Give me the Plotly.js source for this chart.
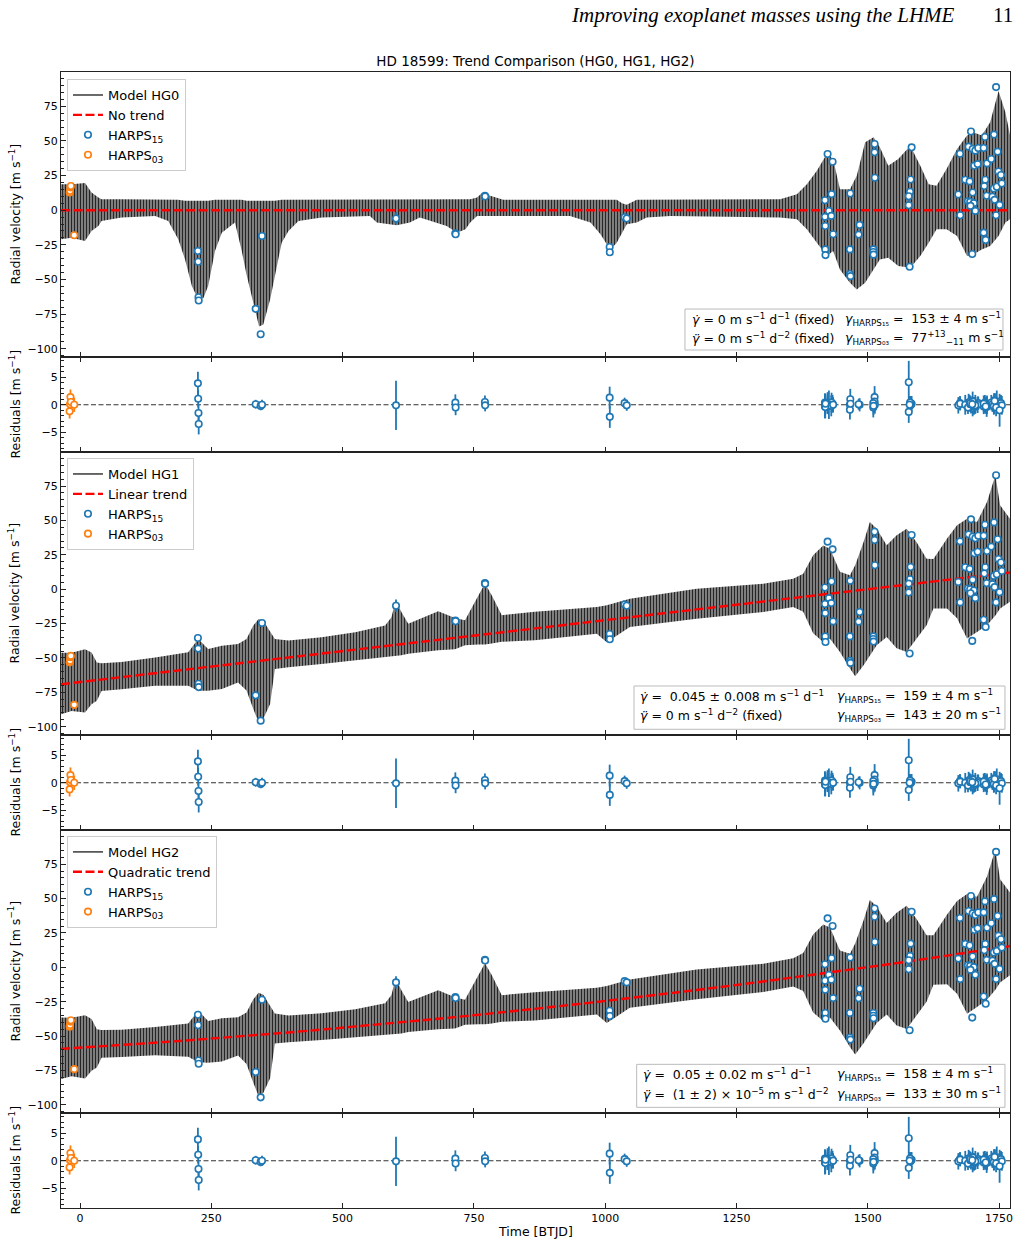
<!DOCTYPE html>
<html>
<head>
<meta charset="utf-8">
<script src="https://cdn.plot.ly/plotly-3.0.1.min.js"></script>
<style>
  html, body { margin: 0; padding: 0; background: #ffffff; }
  #chart { width: 1021px; height: 1246px; }
</style>
</head>
<body>
<div id="chart"></div>
<script>
// ---------------- data ----------------
// HARPS (post-2015) radial velocities, absolute [m/s], their errors and model residuals
const T_H15 = [224.5, 225.0, 225.6, 226.0, 334.5, 344.0, 346.5, 601.7, 714.7, 715.2, 771.0, 771.4,
  1008.5, 1008.8, 1037.0, 1041.0,
  1423.5, 1433.0, 1431.0, 1418.5, 1426.0, 1418.5, 1430.5, 1419.0, 1419.0, 1419.5, 1434.0,
  1466.7, 1484.5, 1482.6, 1466.0, 1466.0, 1467.0,
  1513.0, 1513.0, 1513.5, 1510.5, 1510.5, 1511.0,
  1583.5, 1581.6, 1580.5, 1578.0, 1578.0, 1579.7,
  1675.6, 1672.4, 1676.0, 1692.0, 1696.5, 1685.6, 1694.0, 1699.7, 1704.7, 1710.4,
  1720.7, 1723.0, 1702.8, 1709.2, 1699.7, 1690.8, 1695.0, 1702.0, 1695.6, 1704.7,
  1727.0, 1735.2, 1740.4, 1744.3, 1747.3, 1723.7, 1721.8, 1726.4, 1737.3, 1740.0,
  1745.6, 1748.8, 1753.6, 1755.3, 1741.6, 1744.3, 1751.0, 1720.7, 1724.5, 1698.9];
const RV_H15 = [123.5, 115.8, 90.2, 87.8, 81.8, 63.4, 134.4, 147.0, 136.3, 135.7, 163.4, 162.9,
  126.4, 122.6, 147.9, 147.0,
  193.6, 188.0, 164.6, 160.2, 152.5, 148.2, 148.9, 141.6, 124.7, 120.6, 135.6,
  165.1, 142.4, 135.4, 124.7, 106.9, 105.4,
  200.8, 194.8, 176.4, 124.7, 122.8, 120.9,
  198.4, 175.2, 166.3, 163.1, 156.6, 112.2,
  193.8, 164.3, 149.4, 198.9, 209.8, 175.0, 173.8, 197.2, 196.0, 197.9,
  197.9, 205.9, 185.1, 186.3, 165.8, 159.5, 159.0, 158.1, 156.1, 152.5,
  186.8, 190.0, 207.6, 241.9, 195.3, 175.0, 170.4, 163.4, 162.7, 168.7,
  169.9, 181.0, 178.4, 172.3, 160.5, 149.4, 156.8, 136.8, 131.5, 121.4];
const ERR_H15 = [2.1, 1.6, 1.6, 1.9, 0.8, 0.8, 0.9, 4.5, 1.5, 1.4, 1.2, 1.1,
  2.0, 2.0, 1.0, 1.0,
  2.0, 1.6, 1.8, 2.2, 2.6, 1.7, 1.9, 1.5, 2.0, 1.8, 1.4,
  1.9, 1.2, 1.0, 1.6, 1.8, 1.5,
  2.0, 1.7, 1.6, 1.8, 1.5, 1.6,
  1.4, 1.3, 1.2, 3.9, 2.0, 1.5,
  1.3, 1.5, 1.2, 1.6, 1.4, 1.8, 1.3, 1.5, 1.7, 1.2,
  1.4, 1.6, 1.3, 1.5, 1.8, 1.2, 1.4, 1.6, 1.3, 1.5,
  1.7, 1.4, 1.9, 1.6, 1.3, 1.5, 1.2, 1.8, 1.4, 1.6,
  2.0, 1.3, 1.5, 1.7, 1.4, 1.6, 3.0, 1.5, 1.3, 1.4];
const RES_H15 = [3.9, 1.1, -1.5, -3.5, 0.1, -0.2, 0.0, -0.1, 0.4, -0.5, 0.5, -0.1,
  1.3, -2.2, 0.3, -0.1,
  0.3, 0.2, 0.4, -0.3, 0.0, 0.4, -0.2, 0.1, -0.4, 0.2, 0.0,
  1.0, 0.0, 0.1, 0.0, -0.9, 0.2,
  1.4, 0.6, 0.0, -0.5, 0.3, -0.2,
  0.2, -0.1, 0.4, 4.1, -1.3, 0.0,
  0.3, -0.1, 0.2, 0.4, -0.2, 0.0, 0.5, -0.6, 0.1, 0.3,
  -0.3, 0.2, -0.4, 0.0, 0.6, -0.5, 0.1, -0.2, 0.3, -0.1,
  0.0, 0.4, 0.2, 0.5, -0.3, -0.1, 0.3, -0.4, 0.1, -0.2,
  0.6, 0.0, 0.3, -0.1, 0.7, -0.5, -1.0, 0.2, -0.3, 0.1];

// HARPS (2003) radial velocities, absolute [m/s]
const T_H03 = [-19.8, -19.0, -18.2, -17.5, -11.0];
const RV_H03 = [89.8, 91.0, 93.5, 94.5, 58.9];
const ERR_H03 = [1.3, 1.2, 1.4, 1.3, 1.3];
const RES_H03 = [-1.2, 0.1, 1.4, 0.5, 0.0];

// Model envelopes (max / min of the planet + activity curve), relative to each model's trend [m/s]
const ENV0_T = [-36, -16, 9.5, 22, 35, 41, 79, 143, 168, 187, 200, 213, 225, 235, 244, 257, 270, 295, 308, 317,
  330, 341, 349, 362, 371, 384, 397, 416, 460, 524, 552, 565, 584, 603, 628, 647, 698, 708, 718, 734,
  743, 756, 765, 772, 781, 806, 933, 972, 991, 1003, 1013, 1022, 1032, 1041, 1060, 1079, 1124, 1333, 1365, 1384,
  1403, 1422, 1434, 1447, 1466, 1479, 1495, 1511, 1523, 1539, 1558, 1581, 1600, 1616, 1631, 1650, 1670, 1689, 1701, 1717,
  1733, 1749, 1762, 1771];
const ENV0_UP = [18.8, 18.8, 19.6, 12.8, 9.2, 8, 8, 8, 8, 7.5, 6.8, 6.8, 6.8, 6.8, 6.8, 7.5, 7.5, 7.5, 7.5, 6.8,
  6.8, 6.8, 6.8, 6.8, 6.8, 7.5, 7.5, 8, 8, 8, 7.5, 7.5, 7.5, 7.5, 7.5, 7.5, 7.5, 7.5, 7.5, 7.5,
  8, 9.2, 12.3, 12.3, 10.4, 7.5, 7.5, 7.5, 7.5, 7.5, 7.5, 7.5, 5, 4, 7.5, 7.5, 7.5, 8, 11.6, 18.8,
  28.5, 40.6, 37, 15.2, 15.2, 24.9, 49, 52.7, 45.4, 32.1, 37, 46.6, 32.1, 18.8, 17.6, 29.7, 44.2, 53.9, 56.3, 53.9,
  63.5, 86, 70.8, 53.9];
const ENV0_LO = [-21, -19.8, -22.2, -15, -11.4, -7.7, -5.3, -4.1, -7.7, -21, -35.5, -54.8, -64.5, -63.3, -54.8, -29.5, -16.2, -8.9, -29.5, -46.4,
  -66.9, -84, -82.6, -64.5, -47.6, -23.4, -15, -7.7, -5.3, -4.1, -4.1, -8.9, -10.1, -10.9, -8.9, -5.3, -11.4, -13.8, -16.2, -13.8,
  -8.9, -4.1, -4.1, -4.1, -4.1, -4.1, -4.1, -8.9, -17.4, -24.6, -27.1, -23.4, -16.2, -10.1, -8.9, -5.3, -4.1, -5.3, -6.5, -13.8,
  -23.4, -33.1, -29.5, -42.8, -52.4, -57.2, -52.4, -42.8, -35.5, -34.3, -40.3, -41.5, -33.1, -23.4, -13.8, -13.8, -18.6, -33.1, -31.9, -28.3,
  -25.8, -18.6, -8.9, -6.5];

const ENV12_T = [-36, -16, 9.5, 22, 32, 41, 79, 143, 206, 225, 244, 270, 301, 317, 330, 340, 349, 362, 371, 397,
  460, 524, 581, 593, 601, 612, 625, 682, 714, 733, 758, 771, 784, 803, 866, 984, 1003, 1034, 1047, 1174,
  1301, 1358, 1377, 1396, 1415, 1428, 1447, 1466, 1476, 1492, 1504, 1517, 1536, 1555, 1574, 1593, 1612, 1625, 1651, 1670,
  1689, 1708, 1727, 1743, 1752, 1771];
const ENV12_UP = [22.9, 22.1, 23.4, 20.4, 12.7, 11.8, 11.1, 11.4, 12.3, 21.1, 13, 14.3, 14.1, 17, 26.2, 30.6, 28.9, 19.9, 14.6, 12.3,
  11.9, 12.7, 15, 20.5, 32.3, 23.4, 14.3, 20.7, 14.5, 11.9, 29, 37, 27.9, 12.5, 12.1, 10.3, 10.7, 12.8, 13.5, 15,
  13, 14, 16.8, 29.3, 35.7, 32.7, 15, 11.6, 18.5, 34.7, 48.7, 43.3, 30.3, 36.7, 40.7, 30, 17.2, 16.3, 30, 38.8,
  42.8, 39.6, 53.2, 72, 49.7, 39];
const ENV12_LO = [-21.9, -20.3, -22.6, -17.2, -15.1, -8.3, -8.8, -9.2, -12.0, -16.4, -17.3, -17.2, -13.8, -20.5, -34.4, -44.5, -42.5, -32.2, -7.2, -7.1,
  -7.5, -7.8, -7.9, -7.8, -8.1, -8.1, -7.5, -7.6, -8.3, -6.2, -6.9, -7.4, -7.3, -6.9, -8.5, -9.1, -16.2, -10.2, -7.1, -6.8,
  -7.6, -6.5, -10.8, -27.4, -34.5, -32.7, -43.2, -56.2, -62.2, -54.9, -48.1, -41.5, -36.3, -45.4, -49, -40.1, -31.2, -19.7, -20.8, -28.7,
  -44.4, -40.5, -36.4, -30, -25.4, -21.2];

// Model parameters
const MODEL_NAMES = ['HG0', 'HG1', 'HG2'];
const TREND_NAMES = ['No trend', 'Linear trend', 'Quadratic trend'];
const GDOT = [0, 0.045, 0.05];          // m/s/d
const GDOT_ERR = [null, 0.008, 0.02];
const GDDOT = [0, 0, 1e-5];             // m/s/d^2
const GDDOT_ERR = [null, null, 2e-5];
const T_REF = [0, 0, 1300];             // reference epoch of the trend [BTJD]
const TREND_ZERO = [0, -67.5, -10.4];   // trend value at the reference epoch [m/s]
const GAMMA_H15 = [153, 159, 158];
const GAMMA_H15_ERR = [4, 4, 4];
const GAMMA_H03 = [77, 143, 133];
const GAMMA_H03_ERR = [[13, 11], 20, 30];

// ---------------- styling ----------------
const FONT = 'DejaVu Sans, sans-serif';
const BLUE = '#1f77b4', ORANGE = '#ff7f0e', AX = '#222222';
const X_RANGE = [-36.2, 1770.8];
const DOMAINS = [[0.7491, 1], [0.6655, 0.7491], [0.4164, 0.6655], [0.3327, 0.4164], [0.0836, 0.3327], [0, 0.0836]];
const LEGEND_Y = [0.9938, 0.6602, 0.3275];
const BOX = [ // annotation box [x0, x1, y0, y1] in (paper, axis-domain) units, text columns and rows
  { x0: 0.6575, x1: 0.9926, y0: 0.0246, y1: 0.1684, cl: 0.6628, cr: 0.8240, r1: 0.1333, r2: 0.0667 },
  { x0: 0.6038, x1: 0.9947, y0: 0.0201, y1: 0.1731, cl: 0.6080, cr: 0.8156, r1: 0.1378, r2: 0.0707 },
  { x0: 0.6066, x1: 0.9947, y0: 0.0201, y1: 0.1721, cl: 0.6112, cr: 0.8156, r1: 0.1378, r2: 0.0671 }
];

const ax = (n) => (n === 1 ? '' : String(n));
const trend = (k, t) => TREND_ZERO[k] + GDOT[k] * (t - T_REF[k]) + GDDOT[k] * (t - T_REF[k]) * (t - T_REF[k]);

const UNIT = 'm s<sup>−1</sup>';
function gdotText(k) {
  if (GDOT_ERR[k] === null) return '<i>γ̇</i> = ' + GDOT[k] + ' ' + UNIT + ' d<sup>−1</sup> (fixed)';
  return '<i>γ̇</i> =  ' + GDOT[k] + ' ± ' + GDOT_ERR[k] + ' ' + UNIT + ' d<sup>−1</sup>';
}
function gddotText(k) {
  if (GDDOT_ERR[k] === null) return '<i>γ̈</i> = ' + GDDOT[k] + ' ' + UNIT + ' d<sup>−2</sup> (fixed)';
  const m = Math.round(GDDOT[k] / 1e-5), e = Math.round(GDDOT_ERR[k] / 1e-5);
  return '<i>γ̈</i> =  (' + m + ' ± ' + e + ') × 10<sup>−5</sup> ' + UNIT + ' d<sup>−2</sup>';
}
function g15Text(k) {
  return '<i>γ</i><sub>HARPS₁₅</sub> =  ' + GAMMA_H15[k] + ' ± ' + GAMMA_H15_ERR[k] + ' ' + UNIT;
}
function g03Text(k) {
  const e = GAMMA_H03_ERR[k];
  const unc = Array.isArray(e) ? '<sup>+' + e[0] + '</sup><sub>−' + e[1] + '</sub>' : ' ± ' + e;
  return '<i>γ</i><sub>HARPS₀₃</sub> =  ' + GAMMA_H03[k] + unc + ' ' + UNIT;
}

const traces = [];
const layout = {
  width: 1021, height: 1246,
  margin: { l: 61, r: 11, t: 72, b: 38 },
  paper_bgcolor: '#ffffff', plot_bgcolor: '#ffffff',
  font: { family: FONT, size: 12.5, color: '#000000' },
  showlegend: true,
  title: {
    text: 'HD 18599: Trend Comparison (HG0, HG1, HG2)',
    font: { family: FONT, size: 13.5, color: '#000000' },
    x: 0.5, xref: 'paper', xanchor: 'center',
    y: 1 - 61 / 1246, yref: 'container', yanchor: 'middle'
  },
  annotations: [], shapes: []
};

for (let k = 0; k < 3; k++) {
  const nRV = 2 * k + 1, nRes = 2 * k + 2;
  const xa = 'x' + ax(nRV), ya = 'y' + ax(nRV);
  const xr = 'x' + ax(nRes), yr = 'y' + ax(nRes);
  const leg = 'legend' + (k === 0 ? '' : String(k + 1));

  // model envelope (vertical hatch between min and max of the oscillating curve)
  const envT = k === 0 ? ENV0_T : ENV12_T;
  const envUp = k === 0 ? ENV0_UP : ENV12_UP;
  const envLo = k === 0 ? ENV0_LO : ENV12_LO;
  traces.push({
    x: envT, y: envT.map((t, i) => trend(k, t) + envLo[i]),
    xaxis: xa, yaxis: ya, mode: 'lines', line: { width: 0, color: 'rgba(0,0,0,0)' },
    showlegend: false, hoverinfo: 'skip'
  });
  traces.push({
    x: envT, y: envT.map((t, i) => trend(k, t) + envUp[i]),
    xaxis: xa, yaxis: ya, mode: 'lines', line: { width: 0, color: 'rgba(0,0,0,0)' },
    fill: 'tonexty', fillcolor: '#262626',
    fillpattern: { shape: '|', size: 3, solidity: 0.68, fgcolor: '#262626', bgcolor: 'rgba(150,150,150,0.35)', fillmode: 'replace' },
    showlegend: false, hoverinfo: 'skip'
  });
  // legend entry for the model curve
  traces.push({
    x: [null], y: [null], xaxis: xa, yaxis: ya, mode: 'lines',
    line: { color: '#1a1a1a', width: 1.3 }, name: 'Model ' + MODEL_NAMES[k], legend: leg, legendrank: 1
  });
  // trend
  traces.push({
    x: envT, y: envT.map(t => trend(k, t)), xaxis: xa, yaxis: ya, mode: 'lines',
    line: { color: '#ff0000', width: 2.4, dash: '9px,3.5px' }, name: TREND_NAMES[k], legend: leg, legendrank: 2
  });
  // data
  traces.push({
    x: T_H15, y: RV_H15.map(v => v - GAMMA_H15[k]), xaxis: xa, yaxis: ya, mode: 'markers',
    marker: { symbol: 'circle', size: 6.5, color: '#ffffff', line: { color: BLUE, width: 1.6 } },
    error_y: { type: 'data', array: ERR_H15, color: BLUE, thickness: 1.8, width: 0 },
    name: 'HARPS<sub>15</sub>', legend: leg, legendrank: 3
  });
  traces.push({
    x: T_H03, y: RV_H03.map(v => v - GAMMA_H03[k]), xaxis: xa, yaxis: ya, mode: 'markers',
    marker: { symbol: 'circle', size: 6.5, color: '#ffffff', line: { color: ORANGE, width: 1.6 } },
    error_y: { type: 'data', array: ERR_H03, color: ORANGE, thickness: 1.8, width: 0 },
    name: 'HARPS<sub>03</sub>', legend: leg, legendrank: 4
  });
  // residuals
  traces.push({
    x: T_H15, y: RES_H15, xaxis: xr, yaxis: yr, mode: 'markers', showlegend: false,
    marker: { symbol: 'circle', size: 6.5, color: '#ffffff', line: { color: BLUE, width: 1.6 } },
    error_y: { type: 'data', array: ERR_H15, color: BLUE, thickness: 1.8, width: 0 }
  });
  traces.push({
    x: T_H03, y: RES_H03, xaxis: xr, yaxis: yr, mode: 'markers', showlegend: false,
    marker: { symbol: 'circle', size: 6.5, color: '#ffffff', line: { color: ORANGE, width: 1.6 } },
    error_y: { type: 'data', array: ERR_H03, color: ORANGE, thickness: 1.8, width: 0 }
  });

  // axes
  const xBase = {
    range: X_RANGE, tick0: 0, dtick: 250, ticks: 'inside', ticklen: 5, tickwidth: 1, tickcolor: AX,
    showline: true, linecolor: AX, linewidth: 1, zeroline: false, showgrid: false,
    tickfont: { family: FONT, size: 11, color: '#000' }
  };
  layout['xaxis' + ax(nRV)] = Object.assign({}, xBase, {
    anchor: 'y' + ax(nRV), domain: [0, 1], mirror: true, showticklabels: false
  });
  layout['xaxis' + ax(nRes)] = Object.assign({}, xBase, {
    anchor: 'y' + ax(nRes), domain: [0, 1], mirror: 'ticks', showticklabels: k === 2
  });
  const yBase = {
    ticks: 'inside', ticklen: 5, tickwidth: 1, tickcolor: AX, showline: true, linecolor: AX, linewidth: 1,
    mirror: true, zeroline: false, showgrid: false, tick0: 0,
    tickfont: { family: FONT, size: 11, color: '#000' }
  };
  layout['yaxis' + ax(nRV)] = Object.assign({}, yBase, {
    anchor: 'x' + ax(nRV), domain: DOMAINS[nRV - 1], range: [-106, 99.8], dtick: 25,
    minor: { ticks: 'inside', ticklen: 2.5, tickcolor: AX, dtick: 5, tick0: 0, showgrid: false }
  });
  layout['yaxis' + ax(nRes)] = Object.assign({}, yBase, {
    anchor: 'x' + ax(nRes), domain: DOMAINS[nRes - 1], range: [-8.6, 8.7], dtick: 5,
    minor: { ticks: 'inside', ticklen: 2.5, tickcolor: AX, dtick: 1, tick0: 0, showgrid: false }
  });

  // legend box
  layout[leg] = {
    x: 0.0063, y: LEGEND_Y[k], xanchor: 'left', yanchor: 'top', xref: 'paper', yref: 'paper',
    traceorder: 'normal',
    bgcolor: 'rgba(255,255,255,0.85)', bordercolor: '#cccccc', borderwidth: 1,
    font: { family: FONT, size: 13, color: '#000' }, tracegroupgap: 0, itemwidth: 30
  };

  // residual zero line
  layout.shapes.push({
    type: 'line', xref: 'paper', x0: 0, x1: 1, yref: 'y' + ax(nRes), y0: 0, y1: 0, layer: 'below',
    line: { color: '#333333', width: 1.1, dash: '5px,2.5px' }
  });

  // fitted-parameter box
  const b = BOX[k];
  const ydom = 'y' + ax(nRV) + ' domain';
  layout.shapes.push({
    type: 'rect', xref: 'paper', yref: ydom, x0: b.x0, x1: b.x1, y0: b.y0, y1: b.y1, layer: 'above',
    fillcolor: 'rgba(255,255,255,0.85)', line: { color: '#bbbbbb', width: 1 }
  });
  const txt = (x, y, s) => ({
    xref: 'paper', yref: ydom, x: x, y: y, xanchor: 'left', yanchor: 'middle', showarrow: false,
    text: s, font: { family: FONT, size: 12.5, color: '#000' }
  });
  layout.annotations.push(txt(b.cl, b.r1, gdotText(k)));
  layout.annotations.push(txt(b.cl, b.r2, gddotText(k)));
  layout.annotations.push(txt(b.cr, b.r1, g15Text(k)));
  layout.annotations.push(txt(b.cr, b.r2, g03Text(k)));

  // y-axis titles
  const yt = (dom, s) => ({
    xref: 'paper', yref: 'paper', x: -0.0495, y: (dom[0] + dom[1]) / 2, xanchor: 'center', yanchor: 'middle',
    textangle: -90, showarrow: false, text: s, font: { family: FONT, size: 12.5, color: '#000' }
  });
  layout.annotations.push(yt(DOMAINS[nRV - 1], 'Radial velocity [m s<sup>−1</sup>]'));
  layout.annotations.push(yt(DOMAINS[nRes - 1], 'Residuals [m s<sup>−1</sup>]'));
}

// x-axis title and running page header
layout.annotations.push({
  xref: 'paper', yref: 'paper', x: 0.4995, y: -0.0211, xanchor: 'center', yanchor: 'middle', showarrow: false,
  text: 'Time [BTJD]', font: { family: FONT, size: 12.5, color: '#000' }
});
layout.annotations.push({
  xref: 'paper', yref: 'paper', x: 0.9442, y: 1.0502, xanchor: 'right', yanchor: 'middle', showarrow: false,
  text: '<i>Improving exoplanet masses using the LHME</i>',
  font: { family: 'Liberation Serif, serif', size: 21, color: '#000' }
});
layout.annotations.push({
  xref: 'paper', yref: 'paper', x: 1.0053, y: 1.0502, xanchor: 'right', yanchor: 'middle', showarrow: false,
  text: '11', font: { family: 'Liberation Serif, serif', size: 21, color: '#000' }
});

Plotly.newPlot('chart', traces, layout, { displayModeBar: false, staticPlot: true });
</script>
</body>
</html>
